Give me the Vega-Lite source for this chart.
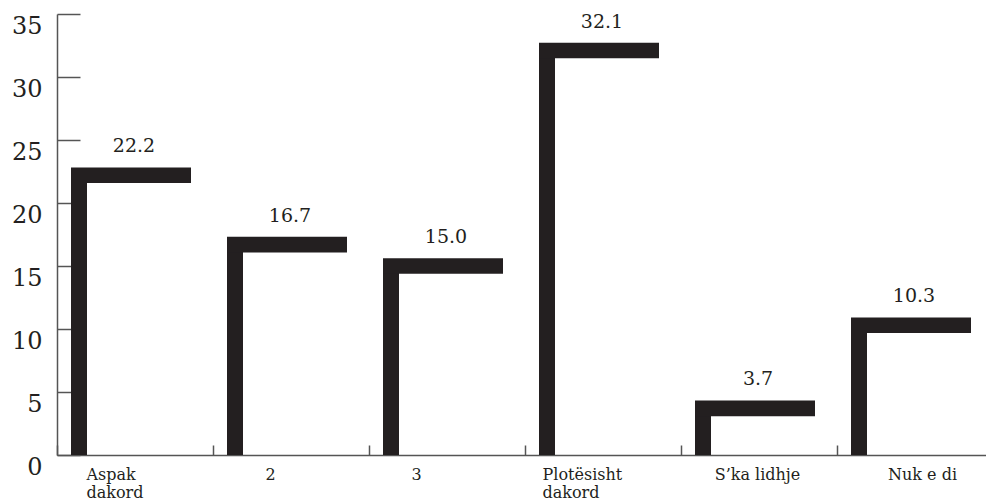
{
  "$schema": "https://vega.github.io/schema/vega-lite/v6.json",
  "width": 929,
  "height": 441,
  "autosize": {"type": "none"},
  "padding": {"left": 57, "top": 14, "right": 0, "bottom": 47},
  "background": "white",
  "config": {
    "view": {"stroke": null},
    "font": "DejaVu Serif"
  },
  "data": {
    "values": [
      {"kategoria": "Aspak dakord", "vlera": 22.2},
      {"kategoria": "2", "vlera": 16.7},
      {"kategoria": "3", "vlera": 15.0},
      {"kategoria": "Plotësisht dakord", "vlera": 32.1},
      {"kategoria": "S’ka lidhje", "vlera": 3.7},
      {"kategoria": "Nuk e di", "vlera": 10.3}
    ]
  },
  "encoding": {
    "x": {
      "field": "kategoria",
      "type": "nominal",
      "sort": null,
      "scale": {"paddingInner": 0, "paddingOuter": 0, "range": [0, 936]},
      "axis": {
        "title": null,
        "labelAngle": 0,
        "tickBand": "extent",
        "tickSize": -10,
        "tickColor": "#555555",
        "tickWidth": 1.5,
        "domainColor": "#555555",
        "domainWidth": 1.5,
        "labelPadding": 21,
        "labelBaseline": "top",
        "labelFont": "DejaVu Serif",
        "labelFontSize": 16,
        "labelLineHeight": 18,
        "labelColor": "#231f20",
        "labelExpr": "datum.label == 'Aspak dakord' ? ['Aspak', 'dakord'] : datum.label == 'Plotësisht dakord' ? ['Plotësisht', 'dakord'] : datum.label",
        "labelAlign": {
          "condition": {"test": "datum.value == 'Aspak dakord' || datum.value == 'Plotësisht dakord'", "value": "left"},
          "value": "center"
        },
        "labelOffset": {
          "condition": [
            {"test": "datum.value == 'Aspak dakord'", "value": -49},
            {"test": "datum.value == 'Plotësisht dakord'", "value": -61},
            {"test": "datum.value == '2'", "value": -21},
            {"test": "datum.value == '3'", "value": -31},
            {"test": "datum.value == 'Nuk e di'", "value": 7}
          ],
          "value": -2
        }
      }
    },
    "y": {
      "field": "vlera",
      "type": "quantitative",
      "scale": {"domain": [0, 35], "nice": false},
      "axis": {
        "title": null,
        "values": [0, 5, 10, 15, 20, 25, 30, 35],
        "grid": false,
        "tickSize": -23,
        "tickColor": "#555555",
        "tickWidth": 1.5,
        "domainColor": "#555555",
        "domainWidth": 1.5,
        "labelPadding": 38,
        "labelFont": "DejaVu Serif",
        "labelFontSize": 24,
        "labelColor": "#231f20",
        "labelBaseline": "middle",
        "labelOffset": 12
      }
    }
  },
  "layer": [
    {
      "mark": {"type": "bar", "width": 16, "xOffset": -56, "color": "#231f20", "opacity": 1}
    },
    {
      "mark": {"type": "tick", "orient": "horizontal", "size": 120, "thickness": 15.6, "xOffset": -4, "color": "#231f20", "opacity": 1}
    },
    {
      "mark": {"type": "text", "dy": -23, "dx": -1, "baseline": "alphabetic", "font": "DejaVu Serif", "fontSize": 19, "color": "#231f20"},
      "encoding": {
        "text": {"field": "vlera", "type": "quantitative", "format": ".1f"}
      }
    }
  ]
}
